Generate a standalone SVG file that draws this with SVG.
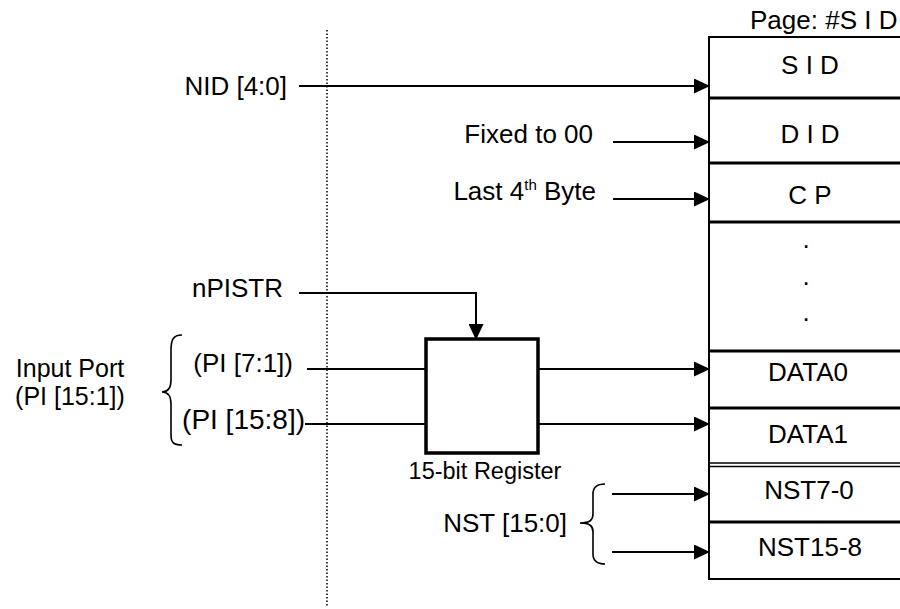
<svg xmlns="http://www.w3.org/2000/svg" width="900" height="609" viewBox="0 0 900 609">
<style>
text{font-family:"Liberation Sans",Arial,sans-serif;font-size:26px;fill:#000}
.mid{text-anchor:middle}
.end{text-anchor:end}
.ln{stroke:#000;stroke-width:2;fill:none}
.br{stroke:#000;stroke-width:1.6;fill:none}
.sep{stroke:#000;stroke-width:3}
</style>
<defs>
<marker id="ah" markerWidth="16" markerHeight="15" refX="15" refY="7.5" orient="auto" markerUnits="userSpaceOnUse">
<path d="M0,0 L16,7.5 L0,15 Z" fill="#000"/>
</marker>
</defs>
<rect width="900" height="609" fill="#fff"/>
<line x1="327" y1="30" x2="327" y2="606" stroke="#000" stroke-width="1.5" stroke-dasharray="1.5 2"/>
<g id="table">
<text x="750" y="29" style="font-size:26px">Page: #S I D</text>
<rect x="709" y="37" width="200" height="542" fill="none" stroke="#000" stroke-width="2"/>
<line class="sep" x1="709" y1="98" x2="905" y2="98"/>
<line class="sep" x1="709" y1="163" x2="905" y2="163"/>
<line class="sep" x1="709" y1="222" x2="905" y2="222"/>
<line class="sep" x1="709" y1="351" x2="905" y2="351"/>
<line class="sep" x1="709" y1="408" x2="905" y2="408"/>
<line x1="709" y1="463" x2="905" y2="463" stroke="#000" stroke-width="1.5"/>
<line x1="709" y1="466.5" x2="905" y2="466.5" stroke="#000" stroke-width="1.5"/>
<line class="sep" x1="709" y1="522" x2="905" y2="522"/>
<g id="sid"><text class="mid" x="810" y="74">S I D</text></g>
<g id="did"><text class="mid" x="810" y="143">D I D</text></g>
<g id="cp"><text class="mid" x="810" y="204">C P</text></g>
<g id="dots"><text class="mid" x="806" y="248">.</text><text class="mid" x="806" y="285">.</text><text class="mid" x="806" y="321">.</text></g>
<g id="data0"><text class="mid" x="808" y="381">DATA0</text></g>
<g id="data1"><text class="mid" x="808" y="443">DATA1</text></g>
<g id="nst70"><text class="mid" x="809" y="499">NST7-0</text></g>
<g id="nst158"><text class="mid" x="810" y="556">NST15-8</text></g>
</g>
<g id="register">
<rect x="426" y="339" width="112" height="114" fill="none" stroke="#000" stroke-width="3.5"/>
<text class="mid" x="485" y="479" style="font-size:23.5px">15-bit Register</text>
</g>
<g id="labels">
<text class="end" x="287" y="95">NID [4:0]</text>
<text class="end" x="593" y="143">Fixed to 00</text>
<text class="end" x="596" y="200">Last 4<tspan dy="-10" style="font-size:15px">th</tspan><tspan dy="10"> Byte</tspan></text>
<text class="end" x="283" y="297">nPISTR</text>
<text class="end" x="293" y="372">(PI [7:1])</text>
<text class="end" x="305" y="429" style="font-size:28px">(PI [15:8])</text>
<text class="mid" x="70" y="377" style="font-size:25px">Input Port</text>
<text class="mid" x="70" y="405" style="font-size:25px">(PI [15:1])</text>
<text class="end" x="567" y="532">NST [15:0]</text>
</g>
<g id="connectors">
<line class="ln" x1="299" y1="86" x2="709" y2="86" marker-end="url(#ah)"/>
<line class="ln" x1="613" y1="142" x2="709" y2="142" marker-end="url(#ah)"/>
<line class="ln" x1="613" y1="199" x2="709" y2="199" marker-end="url(#ah)"/>
<polyline class="ln" points="299,293 476,293 476,339" marker-end="url(#ah)"/>
<line class="ln" x1="307" y1="369" x2="426" y2="369"/>
<line class="ln" x1="305" y1="424" x2="426" y2="424"/>
<line class="ln" x1="538" y1="369" x2="709" y2="369" marker-end="url(#ah)"/>
<line class="ln" x1="538" y1="424" x2="709" y2="424" marker-end="url(#ah)"/>
<line class="ln" x1="612" y1="494" x2="709" y2="494" marker-end="url(#ah)"/>
<line class="ln" x1="612" y1="552" x2="709" y2="552" marker-end="url(#ah)"/>
<path class="br" d="M182,335 C173,335 171,340 171,350 L171,380 C171,388 168,392 162,392 C168,392 171,396 171,404 L171,435 C171,442 173,445 182,445"/>
<path class="br" d="M605,484 C596,484 593,488 593,494 L593,514 C593,520 590,523 580,523 C590,523 593,526 593,532 L593,554 C593,560 596,564 605,564"/>
</g>
</svg>
